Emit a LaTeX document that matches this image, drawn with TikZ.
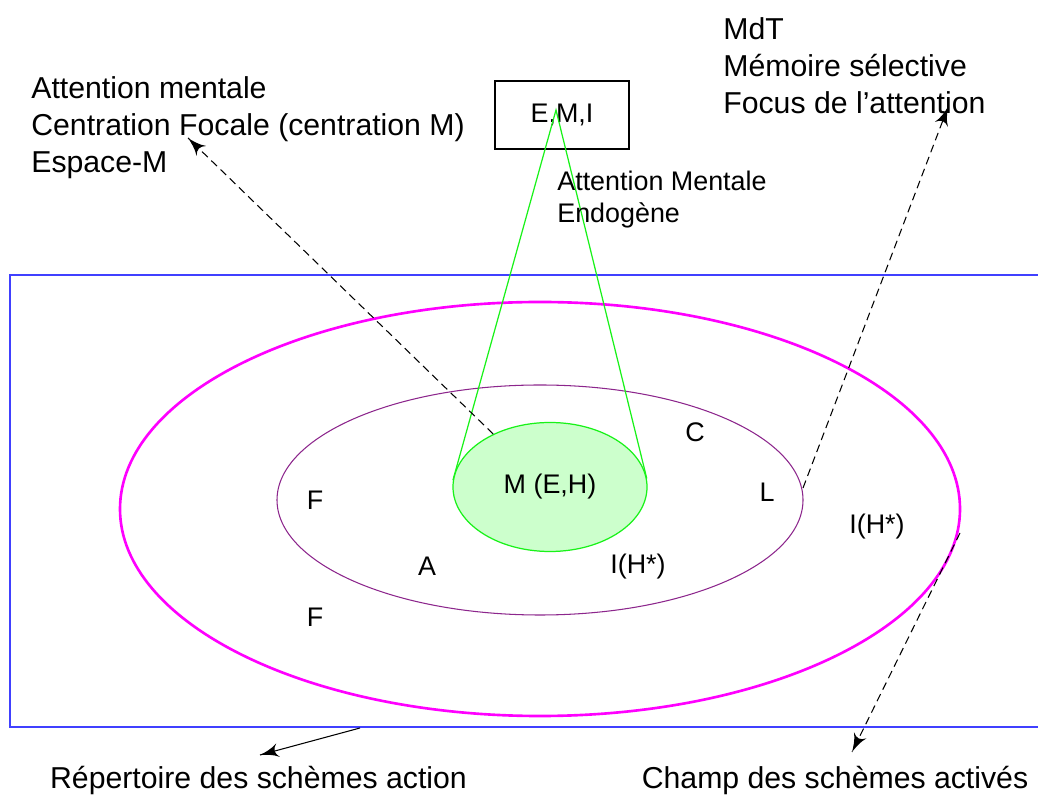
\documentclass[tikz,border=0pt]{standalone}
\usepackage{fontspec}
\setmainfont{Liberation Sans}
\usepackage{tikz}
\usetikzlibrary{arrows}
\usetikzlibrary{decorations.markings}
\usetikzlibrary{shapes.geometric}
\tikzset{arrowend/.style = {decoration={markings,
                                         mark=at position 1 with {\arrow[scale=2.3, solid]{latex'}}},
                            postaction={decorate}}}
\tikzset{lbl/.style = {inner sep = 0, font = \fontsize{15.3}{18.2}\selectfont}}
\tikzset{big/.style = {inner sep = 0, align = left, font = \fontsize{17.2}{21}\selectfont}}
\tikzset{pointer/.style = {line width = 0.6pt, dash pattern = on 4.5pt off 2.8pt, arrowend}}
\definecolor{rblue}{rgb}{0.25, 0.25, 1}
\definecolor{rmagenta}{rgb}{1, 0, 1}
\definecolor{rpurple}{rgb}{0.55, 0.15, 0.55}
\definecolor{rgreen}{rgb}{0.1, 0.95, 0.1}
\definecolor{rgreenfill}{rgb}{0.8, 1, 0.8}

\begin{document}
\begin{tikzpicture}
    \useasboundingbox (0, 0) rectangle (20.76, 15.88);
    \clip (0, 0) rectangle (20.76, 15.88);

    % repertoire, open on the right
    \draw [rblue, line width = 0.75pt] (21, 10.38) -- (0.2, 10.38) -- (0.2, 1.34) -- (21, 1.34);

    \draw [rmagenta, line width = 1.5pt] (10.8, 5.7) ellipse (8.4 and 4.14);
    \draw [rpurple, line width = 0.6pt] (10.8, 5.88) ellipse (5.26 and 2.3);

    \node [lbl, ellipse, draw = rgreen, fill = rgreenfill, line width = 0.7pt,
           minimum width = 3.88cm, minimum height = 2.58cm] (focus) at (11, 6.14) {M (E,H)};
    \node [lbl, draw, line width = 0.6pt, minimum width = 2.68cm, minimum height = 1.36cm] (emi) at (11.24, 13.58) {E,M,I};
    \coordinate (apex) at (11.12, 13.68);
    \draw [rgreen, line width = 0.7pt] (focus.176) -- (apex) -- (focus.5);

    \node [lbl] (c) at (13.9, 7.24) {C};
    \node [lbl] (l) at (15.34, 6.04) {L};
    \node [lbl] (f1) at (6.3, 5.88) {F};
    \node [lbl] (f2) at (6.3, 3.54) {F};
    \node [lbl] (a) at (8.54, 4.56) {A};
    \node [lbl] (ih1) at (12.76, 4.54) {I(H*)};
    \node [lbl] (ih2) at (17.54, 5.34) {I(H*)};

    \node [big, anchor = north west] (amentale) at (0.62, 14.36) {Attention mentale\\Centration Focale (centration M)\\Espace-M};
    \node [big, anchor = north west] (mdt) at (14.46, 15.54) {MdT\\Mémoire sélective\\Focus de l’attention};
    \node [lbl, align = left, anchor = north west] (endo) at (11.14, 12.46) {Attention Mentale\\Endogène};
    \node [big, anchor = base] (repert) at (5.17, 0.12) {Répertoire des schèmes action};
    \node [big, anchor = base] (champ) at (16.7, 0.12) {Champ des schèmes activés};

    \coordinate (tipfocale) at (3.76, 13.12);
    \coordinate (purpleeast) at (16.06, 6.12);
    \coordinate (tipattn) at (18.96, 13.74);
    \coordinate (magentaeast) at (19.2, 5.22);
    \coordinate (tipchamp) at (17.04, 0.84);
    \coordinate (repbottom) at (7.2, 1.32);
    \coordinate (tiprepert) at (5.2, 0.78);

    \draw [pointer] (focus.137) -- (tipfocale);
    \draw [pointer] (purpleeast) -- (tipattn);
    \draw [pointer] (magentaeast) -- (tipchamp);
    \draw [line width = 0.6pt, arrowend] (repbottom) -- (tiprepert);
\end{tikzpicture}
\end{document}
